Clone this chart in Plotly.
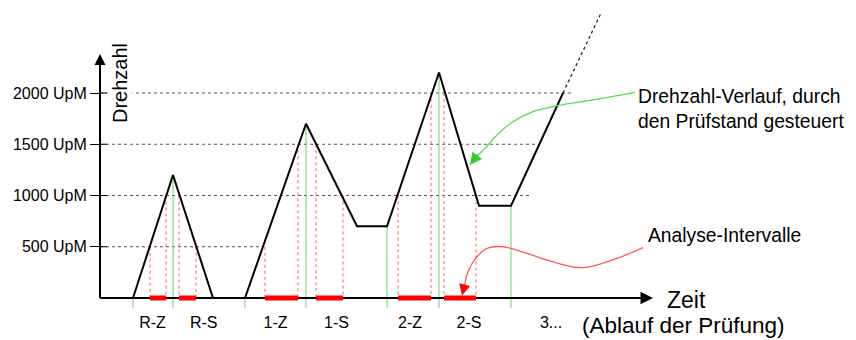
import plotly.graph_objects as go

# ---------------- data ----------------
# speed profile (time units, UpM)
prof_t = [33, 73, 113, None, 145, 206, 257, 287, 339, 379, 411, 463]
prof_rpm = [0, 1200, 0, None, 0, 1700, 700, 700, 2200, 900, 900, 2000]
# continuation (dotted)
ext_t = [463, 501]
ext_rpm = [2000, 2780]

# analysis intervals
iv_names = ["R-Z", "R-S", "1-Z", "1-S", "2-Z", "2-S"]
iv_start = [50, 79, 165, 216, 298, 344]
iv_end = [66, 96, 198, 243, 331, 376]
iv_rpm_start = [500, 1000, 500, 1500, 1000, 2000]
iv_rpm_end = [1000, 500, 1500, 1000, 2000, 1000]

# phase boundaries (green)
mark_t = [33, 73, 145, 206, 287, 339, 411]
mark_rpm = [0, 1200, 0, 1700, 700, 2200, 900]

# x labels
label_t = [52.5, 103.7, 175.5, 236.5, 310, 369, 451]
label_text = ["R-Z", "R-S", "1-Z", "1-S", "2-Z", "2-S", "3..."]

# y ticks / grid
ytick_vals = [500, 1000, 1500, 2000]
ytick_text = ["500 UpM", "1000 UpM", "1500 UpM", "2000 UpM"]
grid_end_t = [163, 431, 439, 472]

# annotation curves
green_t = [535, 493, 457, 433, 413, 397, 385, 376, 372]
green_rpm = [2007, 1932, 1876, 1818, 1720, 1590, 1460, 1376, 1330]
red_t = [543, 517, 483, 450, 427, 403, 387, 377, 368, 364]
red_rpm = [491, 387, 296, 361, 436, 500, 485, 403, 257, 90]

X_RANGE = [-100, 756]
Y_RANGE = [-409.8, 2907.3]
AXIS_BOTTOM = -98
FONT = "Liberation Sans, Arial, sans-serif"

fig = go.Figure()

# green phase lines
gx, gy = [], []
for t, r in zip(mark_t, mark_rpm):
    gx += [t, t, None]
    gy += [r, AXIS_BOTTOM, None]
fig.add_trace(go.Scatter(x=gx, y=gy, mode="lines",
                         line=dict(color="#66d966", width=1), hoverinfo="skip"))

# red dotted interval boundaries
rx, ry = [], []
for s, e, rs, re_ in zip(iv_start, iv_end, iv_rpm_start, iv_rpm_end):
    rx += [s, s, None, e, e, None]
    ry += [rs, 0, None, re_, 0, None]
fig.add_trace(go.Scatter(x=rx, y=ry, mode="lines",
                         line=dict(color="rgba(255,40,40,0.75)", width=1, dash="dot"),
                         hoverinfo="skip"))

# axes lines
fig.add_trace(go.Scatter(x=[0, 541], y=[0, 0], mode="lines",
                         line=dict(color="black", width=2), hoverinfo="skip"))
fig.add_trace(go.Scatter(x=[0, 0], y=[0, 2280], mode="lines",
                         line=dict(color="black", width=2), hoverinfo="skip"))

# profile
fig.add_trace(go.Scatter(x=prof_t, y=prof_rpm, mode="lines",
                         line=dict(color="black", width=2), hoverinfo="skip"))
fig.add_trace(go.Scatter(x=ext_t, y=ext_rpm, mode="lines",
                         line=dict(color="#222", width=1.3, dash="dot"), hoverinfo="skip"))

# red bars
bx, by = [], []
for s, e in zip(iv_start, iv_end):
    bx += [s, e, None]
    by += [0, 0, None]
fig.add_trace(go.Scatter(x=bx, y=by, mode="lines",
                         line=dict(color="#ff0000", width=5), hoverinfo="skip"))

# curves
fig.add_trace(go.Scatter(x=green_t, y=green_rpm, mode="lines",
                         line=dict(color="#55dd55", width=1.3, shape="spline"),
                         hoverinfo="skip"))
fig.add_trace(go.Scatter(x=red_t, y=red_rpm, mode="lines",
                         line=dict(color="#ff5a5a", width=1.3, shape="spline"),
                         hoverinfo="skip"))

# gridlines
shapes = []
for v, end in zip(ytick_vals, grid_end_t):
    shapes.append(dict(type="line", xref="x", yref="y", x0=0, x1=end, y0=v, y1=v,
                       line=dict(color="#555", width=1, dash="dot"), layer="below"))
    shapes.append(dict(type="line", xref="x", yref="y", x0=0, x1=7, y0=v, y1=v,
                       line=dict(color="black", width=1), layer="below"))

annotations = [
    # axis arrowheads
    dict(x=553, y=0, xref="x", yref="y", ax=-14, ay=0, text="", showarrow=True,
         arrowhead=2, arrowsize=1.25, arrowwidth=2, arrowcolor="black"),
    dict(x=0, y=2380, xref="x", yref="y", ax=0, ay=14, text="", showarrow=True,
         arrowhead=2, arrowsize=1.1, arrowwidth=2, arrowcolor="black"),
    # curve arrowheads
    dict(x=370, y=1298, xref="x", yref="y", ax=9, ay=-12, text="", showarrow=True,
         arrowhead=2, arrowsize=1.6, arrowwidth=1.5, arrowcolor="#33cc33"),
    dict(x=362, y=24, xref="x", yref="y", ax=3, ay=-12, text="", showarrow=True,
         arrowhead=2, arrowsize=1.5, arrowwidth=1.5, arrowcolor="#ff0000"),
    # texts
    dict(x=20, y=2097, xref="x", yref="y", text="Drehzahl", textangle=-90,
         showarrow=False, font=dict(family=FONT, size=20, color="black"),
         bgcolor="white"),
    dict(x=536, y=1845, xref="x", yref="y", xanchor="left", align="left",
         text="Drehzahl-Verlauf, durch<br>den Prüfstand gesteuert",
         showarrow=False, font=dict(family=FONT, size=19.3, color="black")),
    dict(x=546, y=605, xref="x", yref="y", xanchor="left",
         text="Analyse-Intervalle",
         showarrow=False, font=dict(family=FONT, size=19.3, color="black")),
    dict(x=565, y=-20, xref="x", yref="y", xanchor="left",
         text="Zeit",
         showarrow=False, font=dict(family=FONT, size=23, color="black")),
    dict(x=583.5, y=-268, xref="x", yref="y", xanchor="center",
         text="(Ablauf der Prüfung)",
         showarrow=False, font=dict(family=FONT, size=22.5, color="black")),
]

fig.update_layout(
    width=856, height=340,
    margin=dict(l=0, r=0, t=0, b=0),
    paper_bgcolor="white", plot_bgcolor="white",
    showlegend=False,
    shapes=shapes,
    annotations=annotations,
    xaxis=dict(range=X_RANGE, domain=[0, 1], showgrid=False, zeroline=False,
               showline=False, ticks="", tickvals=label_t, ticktext=label_text,
               tickfont=dict(family=FONT, size=16, color="black"),
               anchor="free", position=(340 - 298) / 340, ticklabelstandoff=13),
    yaxis=dict(range=Y_RANGE, domain=[0, 1], showgrid=False, zeroline=False,
               showline=False, ticks="outside", ticklen=10, tickwidth=1,
               tickcolor="black", tickvals=ytick_vals, ticktext=ytick_text,
               tickfont=dict(family=FONT, size=16, color="black"),
               anchor="free", position=100 / 856),
)

fig.write_html("out.html", config={"displayModeBar": False},
               post_script="document.body.style.margin='0px';document.body.style.overflow='hidden';")
